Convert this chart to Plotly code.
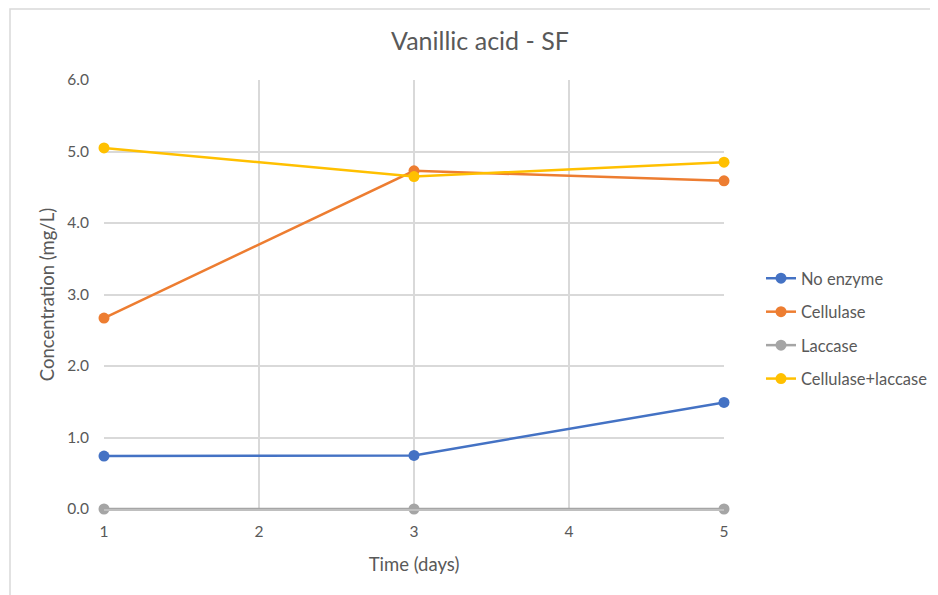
import plotly.graph_objects as go

days = [1, 3, 5]
no_enzyme = [0.74, 0.75, 1.49]
cellulase = [2.67, 4.73, 4.59]
laccase = [0.0, 0.0, 0.0]
cellulase_laccase = [5.05, 4.65, 4.85]

series = [
    ("No enzyme", no_enzyme, "#4472C4"),
    ("Cellulase", cellulase, "#ED7D31"),
    ("Laccase", laccase, "#A5A5A5"),
    ("Cellulase+laccase", cellulase_laccase, "#FFC000"),
]

font = "Lato, 'Open Sans', sans-serif"
grey = "#595959"

# page body has an 8px margin, so everything is shifted back by 8px
off = 8
left, top, pw, ph = 104 - off, 80 - off, 620, 429

fig = go.Figure()
for name, vals, color in series:
    fig.add_trace(go.Scatter(
        x=days, y=vals, name=name, mode="lines+markers",
        line=dict(color=color, width=2.5),
        marker=dict(color=color, size=11),
        cliponaxis=False, legendgroup=name,
    ))

fig.update_layout(
    width=938, height=595,
    paper_bgcolor="white", plot_bgcolor="white",
    margin=dict(l=left, r=938 - left - pw, t=top, b=595 - top - ph),
    font=dict(family=font, color=grey, size=15.5),
    title=dict(text="Vanillic acid - SF", x=(480 - off) / 938, xref="container",
               y=1 - (41 - off) / 595, yref="container", xanchor="center", yanchor="middle",
               font=dict(size=25, color=grey)),
    legend=dict(x=(761 - 104) / 620, y=(509 - 261) / 429, xanchor="left", yanchor="top",
                traceorder="grouped", tracegroupgap=9,
                font=dict(size=16.5, color=grey), bgcolor="rgba(0,0,0,0)"),
    showlegend=True,
)
fig.update_xaxes(
    range=[1, 5], tickvals=[1, 2, 3, 4, 5], showgrid=True, gridcolor="#D9D9D9",
    gridwidth=1.5, zeroline=False, showline=True, linecolor="#BFBFBF", linewidth=1.5,
    title=dict(text="Time (days)", font=dict(size=18.5, color=grey), standoff=19),
    automargin=False, ticks="", ticklabelstandoff=8,
)
fig.update_yaxes(
    range=[0, 6], tickvals=[0, 1, 2, 3, 4, 5, 6], tickformat=".1f",
    showgrid=True, gridcolor="#D9D9D9", gridwidth=1.5, zeroline=False,
    title=dict(text="Concentration (mg/L)", font=dict(size=18.5, color=grey), standoff=7),
    automargin=False, ticks="", ticklabelstandoff=14,
)
# chart area border (top edge sits at the very top of the figure)
fig.add_shape(type="rect", xref="paper", yref="paper",
              x0=(10 - 104) / 620, x1=1.4, y0=-0.3, y1=(top + ph - 1) / ph,
              line=dict(color="#D9D9D9", width=1.5), layer="below")

fig.write_html("out.html")
